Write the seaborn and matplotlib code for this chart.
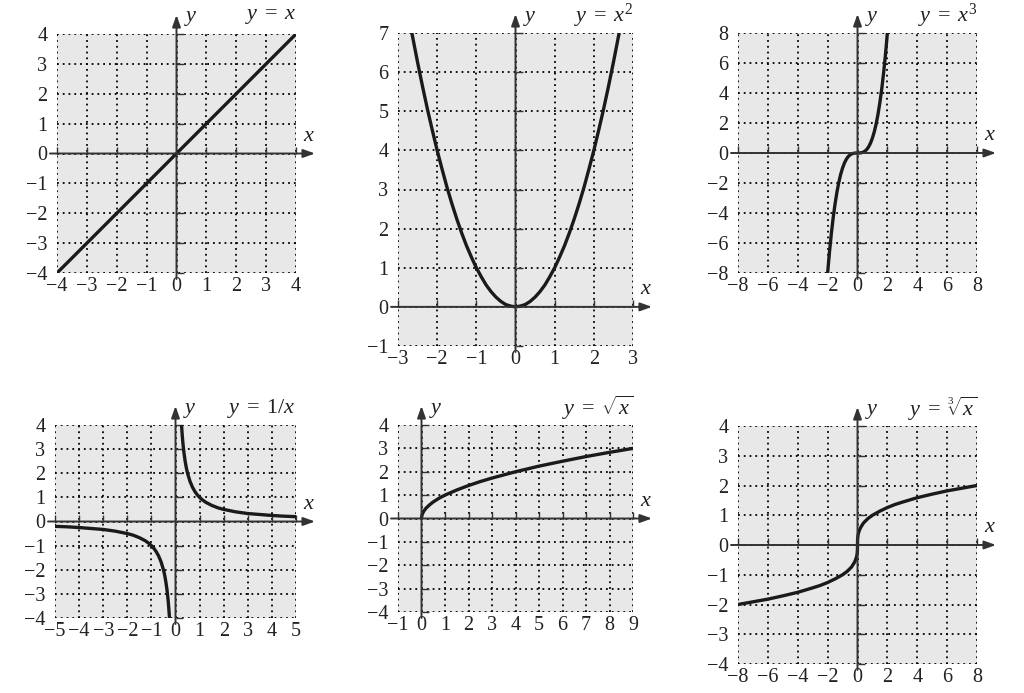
import matplotlib
matplotlib.use("Agg")
import matplotlib.pyplot as plt
import matplotlib.transforms as mtransforms
import seaborn as sns
import numpy as np

sns.set_style("white")
plt.rcParams['font.family'] = ['Liberation Serif', 'DejaVu Serif']
plt.rcParams['mathtext.fontset'] = 'custom'
plt.rcParams['mathtext.rm'] = 'Liberation Serif'
plt.rcParams['mathtext.it'] = 'Liberation Serif:italic'

# curve points
lin_x = [-4, 4]
lin_y = [-4, 4]

sq_x = [-2.65, -2.5, -2.375, -2.25, -2.125, -2, -1.875, -1.75, -1.625, -1.5, -1.375, -1.25,
        -1.125, -1, -0.875, -0.75, -0.625, -0.5, -0.375, -0.25, -0.125, 0,
        0.125, 0.25, 0.375, 0.5, 0.625, 0.75, 0.875, 1, 1.125, 1.25, 1.375, 1.5,
        1.625, 1.75, 1.875, 2, 2.125, 2.25, 2.375, 2.5, 2.65]
sq_y = [7.02, 6.25, 5.64, 5.06, 4.52, 4, 3.52, 3.06, 2.64, 2.25, 1.89, 1.56,
        1.27, 1, 0.77, 0.56, 0.39, 0.25, 0.14, 0.06, 0.02, 0,
        0.02, 0.06, 0.14, 0.25, 0.39, 0.56, 0.77, 1, 1.27, 1.56, 1.89, 2.25,
        2.64, 3.06, 3.52, 4, 4.52, 5.06, 5.64, 6.25, 7.02]

cu_x = [-2, -1.875, -1.75, -1.625, -1.5, -1.375, -1.25, -1.125, -1, -0.875, -0.75, -0.625,
        -0.5, -0.375, -0.25, -0.125, 0,
        0.125, 0.25, 0.375, 0.5, 0.625, 0.75, 0.875, 1, 1.125, 1.25, 1.375, 1.5,
        1.625, 1.75, 1.875, 2]
cu_y = [-8, -6.59, -5.36, -4.29, -3.38, -2.6, -1.95, -1.42, -1, -0.67, -0.42, -0.24,
        -0.125, -0.05, -0.016, -0.002, 0,
        0.002, 0.016, 0.05, 0.125, 0.24, 0.42, 0.67, 1, 1.42, 1.95, 2.6, 3.38,
        4.29, 5.36, 6.59, 8]

inv_pos_x = [0.25, 0.275, 0.3, 0.325, 0.35, 0.4, 0.45, 0.5, 0.6, 0.7, 0.8, 0.9, 1, 1.1, 1.25,
             1.5, 1.75, 2, 2.5, 3, 3.5, 4, 4.5, 5]
inv_pos_y = [4, 3.64, 3.33, 3.08, 2.86, 2.5, 2.22, 2, 1.67, 1.43, 1.25, 1.11, 1, 0.91, 0.8,
             0.67, 0.57, 0.5, 0.4, 0.33, 0.29, 0.25, 0.22, 0.2]
inv_neg_x = [-5, -4.5, -4, -3.5, -3, -2.5, -2, -1.75, -1.5, -1.25, -1.1, -1, -0.9, -0.8,
             -0.7, -0.6, -0.5, -0.45, -0.4, -0.35, -0.325, -0.3, -0.275, -0.25]
inv_neg_y = [-0.2, -0.22, -0.25, -0.29, -0.33, -0.4, -0.5, -0.57, -0.67, -0.8, -0.91, -1, -1.11, -1.25,
             -1.43, -1.67, -2, -2.22, -2.5, -2.86, -3.08, -3.33, -3.64, -4]

sqrt_x = [0, 0.01, 0.04, 0.1, 0.2, 0.35, 0.5, 0.75, 1, 1.5, 2, 2.5, 3, 4, 5, 6, 7, 8, 9]
sqrt_y = [0, 0.1, 0.2, 0.32, 0.45, 0.59, 0.71, 0.87, 1, 1.22, 1.41, 1.58, 1.73, 2, 2.24,
          2.45, 2.65, 2.83, 3]

cb_x = [-8, -7, -6, -5, -4, -3, -2.5, -2, -1.5, -1, -0.7, -0.4, -0.2, -0.1, -0.05, -0.02,
        -0.005, 0,
        0.005, 0.02, 0.05, 0.1, 0.2, 0.4, 0.7, 1, 1.5, 2, 2.5, 3, 4, 5, 6, 7, 8]
cb_y = [-2, -1.91, -1.82, -1.71, -1.59, -1.44, -1.36, -1.26, -1.14, -1, -0.89, -0.74,
        -0.58, -0.46, -0.37, -0.27, -0.17, 0,
        0.17, 0.27, 0.37, 0.46, 0.58, 0.74, 0.89, 1, 1.14, 1.26, 1.36, 1.44, 1.59,
        1.71, 1.82, 1.91, 2]

panels = [
    # box in pixels (left, top, right, bottom), limits, tick steps, title, curves
    dict(box=(57, 34, 296, 273), xlim=(-4, 4), ylim=(-4, 4), xs=1, ys=1,
         title=r'$y\;=\;x$', curves=[(lin_x, lin_y)]),
    dict(box=(398, 33, 633, 346), xlim=(-3, 3), ylim=(-1, 7), xs=1, ys=1,
         title=r'$y\;=\;x^2$', curves=[(sq_x, sq_y)]),
    dict(box=(738, 33, 977, 273), xlim=(-8, 8), ylim=(-8, 8), xs=2, ys=2,
         title=r'$y\;=\;x^3$', curves=[(cu_x, cu_y)]),
    dict(box=(55, 425, 296, 618), xlim=(-5, 5), ylim=(-4, 4), xs=1, ys=1,
         title=r'$y\;=\;1/x$', curves=[(inv_pos_x, inv_pos_y), (inv_neg_x, inv_neg_y)]),
    dict(box=(398, 425, 633, 612), xlim=(-1, 9), ylim=(-4, 4), xs=1, ys=1,
         title=r'$y\;=\;\sqrt{x}$', curves=[(sqrt_x, sqrt_y)]),
    dict(box=(738, 426, 977, 664), xlim=(-8, 8), ylim=(-4, 4), xs=2, ys=1,
         title=r'$y\;=\;\sqrt[3]{x}$', curves=[(cb_x, cb_y)]),
]

W, H = 1024, 693
fig = plt.figure(figsize=(W / 100, H / 100), dpi=100)

for p in panels:
    l, t, r, b = p['box']
    ax = fig.add_axes([l / W, 1 - b / H, (r - l) / W, (b - t) / H])
    ax.set_facecolor('#e8e8e8')
    xt = np.arange(p['xlim'][0], p['xlim'][1] + 0.01, p['xs'])
    yt = np.arange(p['ylim'][0], p['ylim'][1] + 0.01, p['ys'])
    ax.set_xticks(xt)
    ax.set_yticks(yt)
    ax.set_xticklabels([f'{v:g}'.replace('-', '\u2212') for v in xt])
    ax.set_yticklabels([f'{v:g}'.replace('-', '\u2212') for v in yt])
    ax.set_xlim(*p['xlim'])
    ax.set_ylim(*p['ylim'])
    ax.tick_params(length=0, labelsize=14.5, colors='#222222')
    ax.tick_params(axis='y', pad=7)
    ax.tick_params(axis='x', pad=3)
    for s in ax.spines.values():
        s.set_visible(False)
    ax.grid(True, color='black', linestyle=(0, (1, 2.2)), linewidth=1.3)

    # axis lines with arrows
    head_x = mtransforms.offset_copy(ax.transData, fig=fig, x=19, y=0, units='dots')
    tail_x = mtransforms.offset_copy(ax.transData, fig=fig, x=-7, y=0, units='dots')
    head_y = mtransforms.offset_copy(ax.transData, fig=fig, x=0, y=19, units='dots')
    tail_y = mtransforms.offset_copy(ax.transData, fig=fig, x=0, y=-6, units='dots')
    aprops = dict(arrowstyle='-|>,head_length=0.7,head_width=0.25', color='#333333',
                  lw=1.4, shrinkA=0, shrinkB=0)
    ax.annotate('', xy=(p['xlim'][1], 0), xycoords=head_x,
                xytext=(p['xlim'][0], 0), textcoords=tail_x,
                arrowprops=aprops, annotation_clip=False)
    ax.annotate('', xy=(0, p['ylim'][1]), xycoords=head_y,
                xytext=(0, p['ylim'][0]), textcoords=tail_y,
                arrowprops=aprops, annotation_clip=False)

    # small tick marks on the axis lines
    tx = [v for v in xt if v != 0]
    ty = [v for v in yt if v != 0]
    ax.plot(tx, [0] * len(tx), linestyle='none', marker=2, markersize=5,
            color='#333333', mew=1.0, clip_on=False)
    ax.plot([0] * len(ty), ty, linestyle='none', marker=1, markersize=5,
            color='#333333', mew=1.0, clip_on=False)

    for cx, cy in p['curves']:
        sns.lineplot(x=cx, y=cy, ax=ax, color='#1a1a1a', linewidth=2.4,
                     sort=False, estimator=None)

    # axis names and title
    lab_y = mtransforms.offset_copy(ax.transData, fig=fig, x=9, y=17, units='dots')
    ax.text(0, p['ylim'][1], 'y', transform=lab_y, fontsize=16, style='italic',
            ha='left', va='center', color='#222222')
    lab_x = mtransforms.offset_copy(ax.transData, fig=fig, x=12, y=17, units='dots')
    ax.text(p['xlim'][1], 0, 'x', transform=lab_x, fontsize=16, style='italic',
            ha='center', va='center', color='#222222')
    ttl = mtransforms.offset_copy(ax.transAxes, fig=fig, x=0, y=17, units='dots')
    ax.text(1.0, 1.0, p['title'], transform=ttl, fontsize=16,
            ha='right', va='center', color='#222222')

fig.savefig('out.png', dpi=100)
